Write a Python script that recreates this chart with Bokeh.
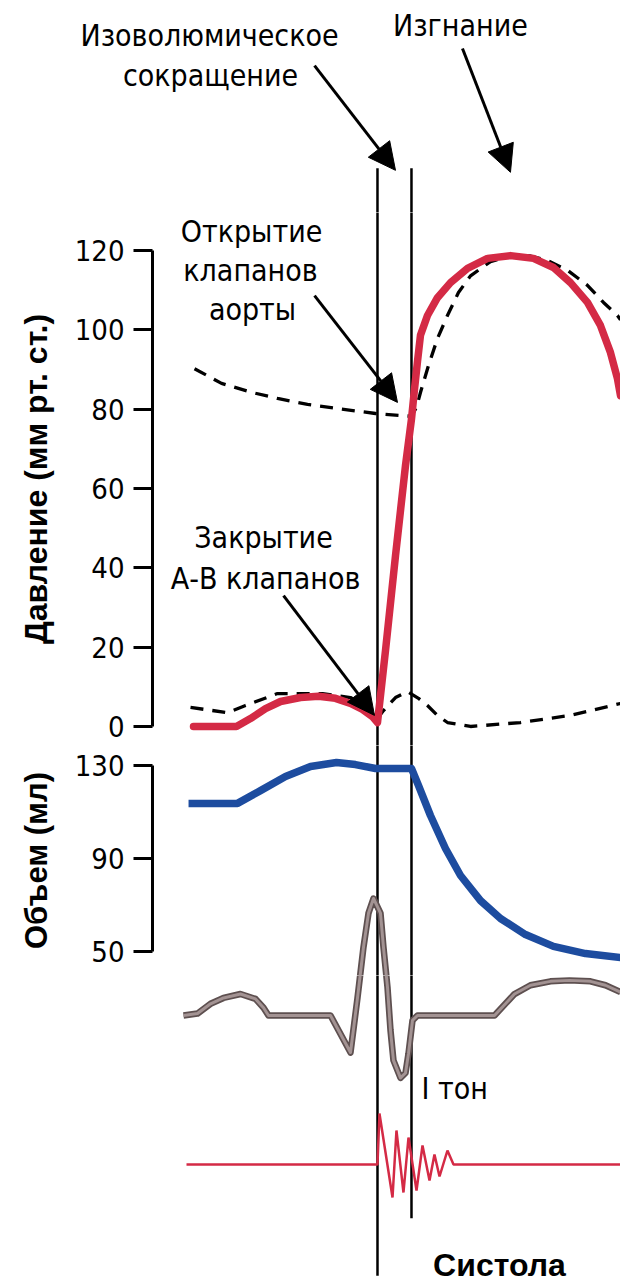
from bokeh.plotting import figure
from bokeh.layouts import column
from bokeh.models import Range1d, FixedTicker, Label, Arrow, NormalHead
from bokeh.embed import file_html
from bokeh.resources import INLINE

# ---------------- data (time in ms from closure of A-V valves) ----------------
phase_bounds = [0, 50]          # isovolumic contraction: AV closure -> aortic opening

# left-ventricular pressure, mm Hg
lv_t = [-270.6, -207.4, -186.8, -164.7, -142.6, -113.2, -86.8, -61.8, -39.7, -22.1,
        -7.4, -1.5, 0, 11.8, 26.5, 41.2, 50, 54.4, 58.8, 63.2, 73.5, 88.2, 107.4,
        132.4, 161.8, 195.6, 229.4, 258.8, 283.8, 308.8, 327.9, 342.6, 352.9, 357.4]
lv_p = [0, 0, 2.0, 4.5, 6.3, 7.3, 7.6, 7.1, 5.8, 4.3,
        2.5, 1.3, 1.0, 19.2, 43.1, 65.8, 77.5, 85.0, 92.0, 98.6, 103.6, 108.1, 111.9,
        115.5, 118.0, 118.7, 118.0, 115.7, 111.9, 106.9, 101.1, 94.3, 87.7, 83.4]

# aortic pressure, mm Hg
ao_t = [-269.1, -229.4, -186.8, -147.1, -102.9, -60.3, -2.9, 41.2, 50, 57.4, 63.2,
        75.0, 88.2, 102.9, 119.1, 136.8, 166.2, 195.6, 225.0, 250.0, 279.4, 308.8,
        332.4, 352.9, 357.4]
ao_p = [90.2, 86.5, 84.3, 82.7, 81.2, 80.2, 78.9, 78.3, 78.2, 80.5, 84.2,
        91.0, 97.8, 103.6, 109.4, 113.6, 117.2, 118.6, 118.6, 117.5, 115.0, 111.2,
        106.9, 103.6, 102.5]

# left-atrial pressure, mm Hg
la_t = [-275, -220.6, -194.1, -147.1, -80.9, -39.7, -13.2, 0, 8.8, 26.5, 44.1,
        60.3, 73.5, 88.2, 102.9, 136.8, 210.3, 283.8, 357.4]
la_p = [4.8, 3.5, 5.3, 8.3, 8.3, 7.3, 4.8, 2.0, 4.0, 7.3, 8.8,
        7.1, 5.3, 2.8, 1.0, 0.0, 1.0, 2.8, 5.8]

# ventricular volume, ml
vol_t = [-277.9, -205.9, -172.1, -135.3, -98.5, -60.3, -32.4, -2.9, 50, 60.3, 77.9,
         100, 122.1, 151.5, 180.9, 217.6, 258.8, 305.9, 357.4]
vol_v = [113.7, 113.7, 119.2, 125.3, 129.6, 131.3, 130.4, 128.7, 128.7, 121.4, 108.5,
         94.3, 82.7, 71.9, 64.2, 57.3, 52.2, 49.1, 47.4]

# ECG, mV
ecg_t = [-285.3, -264.7, -245.6, -226.5, -201.5, -179.4, -167.6, -160.3, -69.1, -39.7,
         -29.4, -20.6, -13.2, -5.9, 4.4, 8.8, 14.7, 19.1, 23.5, 33.8, 41.2, 45.6, 51.5,
         58.8, 172.1, 201.5, 225.0, 254.4, 282.4, 313.2, 335.3, 357.4]
ecg_mv = [0, 0.02, 0.12, 0.18, 0.22, 0.17, 0.08, 0, 0, -0.38,
          0.18, 0.70, 1.05, 1.2, 1.05, 0.70, 0.29, -0.15, -0.46, -0.64, -0.59, -0.39, -0.05,
          0, 0, 0.22, 0.31, 0.35, 0.36, 0.35, 0.31, 0.24]

# phonocardiogram (first heart sound), arbitrary units
pcg_t = [-280.9, 0, 2.9, 22.1, 27.9, 38.2, 45.6, 57.4, 66.2, 76.5, 83.8, 91.2,
         102.9, 111.8, 357.4]
pcg_a = [0, 0, 1.02, -0.66, 0.68, -0.56, 0.54, -0.52, 0.38, -0.32, 0.20, -0.24,
         0.28, 0, 0]

p_ticks = [0, 20, 40, 60, 80, 100, 120]
v_ticks = [50, 90, 130]

# ---------------- styles ----------------
NARROW = "Liberation Sans Narrow, DejaVu Sans Condensed, sans-serif"
BOLD = "Liberation Sans, Arial, sans-serif"
RED = "#d42a45"
BLUE = "#1d4c9f"
W = 620
AXIS_X = 152
X_FULL = (-554.4, 357.4)
X_PLOT = (-330.9, 357.4)
LW_V = 2.5
TXT = "30px"
DASH = "13 9"


def base_fig(height, y_range, x_range, left, yaxis):
    f = figure(width=W, height=height, x_range=Range1d(*x_range), y_range=y_range,
               output_backend="svg", toolbar_location=None, x_axis_location=None,
               y_axis_location="left" if yaxis else None,
               min_border_left=left, min_border_right=0, min_border_top=0,
               min_border_bottom=0)
    try:
        f.frame_align = False
    except AttributeError:
        pass
    f.outline_line_color = None
    f.grid.visible = False
    f.background_fill_color = "white"
    f.border_fill_color = "white"
    return f


def style_axis(ax, ticks, bounds, label, label_size):
    ax.ticker = FixedTicker(ticks=ticks)
    ax.bounds = bounds
    ax.axis_line_width = 3
    ax.axis_line_color = "black"
    ax.major_tick_line_width = 3
    ax.major_tick_out = 19
    ax.major_tick_in = 0
    ax.minor_tick_line_color = None
    ax.major_label_text_font = NARROW
    ax.major_label_text_font_size = "29px"
    ax.major_label_text_color = "black"
    ax.major_label_standoff = 9
    ax.axis_label = label
    ax.axis_label_text_font = BOLD
    ax.axis_label_text_font_style = "bold"
    ax.axis_label_text_font_size = label_size
    ax.axis_label_text_color = "black"
    ax.axis_label_standoff = 18


def add_text(f, txt, x, y, size=TXT, font=NARROW, style="normal", align="center",
             y_range_name="default"):
    f.add_layout(Label(x=x, y=y, text=txt, text_font=font, text_font_size=size,
                       text_font_style=style, text_align=align, text_baseline="middle",
                       text_color="black", y_range_name=y_range_name))


def add_arrow(f, xs, ys, xe, ye):
    f.add_layout(Arrow(end=NormalHead(size=27, fill_color="black", line_color="black",
                                      line_width=1),
                       x_start=xs, y_start=ys, x_end=xe, y_end=ye,
                       line_width=3, line_color="black"))


# ---------------- top panel: phase annotations ----------------
pa = base_fig(212, Range1d(129.57, 183.0), X_FULL, 0, False)
line_top = 140.7
pa.segment(x0=phase_bounds, y0=[line_top] * 2, x1=phase_bounds, y1=[100] * 2,
           line_color="black", line_width=LW_V)
add_text(pa, "Изоволюмическое", -247.0, 174.2)
add_text(pa, "сокращение", -245.6, 164.1)
add_text(pa, "Изгнание", 122.0, 176.7)
add_arrow(pa, -92.6, 166.6, 26.5, 140.2)
add_arrow(pa, 125.0, 170.9, 195.6, 139.7)

# ---------------- pressure panel ----------------
pb = base_fig(533, Range1d(-4.79, 129.57), X_PLOT, AXIS_X, True)
style_axis(pb.yaxis[0], p_ticks, (0, 120), "Давление (мм рт. ст.)", "32px")
pb.segment(x0=phase_bounds, y0=[200] * 2, x1=phase_bounds, y1=[-50] * 2,
           line_color="black", line_width=LW_V)
pb.line(la_t, la_p, line_color="black", line_width=3.3, line_dash=DASH)
pb.line(ao_t, ao_p, line_color="black", line_width=3.3, line_dash=DASH)
pb.line(lv_t, lv_p, line_color=RED, line_width=7.5, line_cap="round", line_join="round")
add_text(pb, "Открытие", -185.3, 124.8)
add_text(pb, "клапанов", -186.8, 115.0)
add_text(pb, "аорты", -183.8, 105.2)
add_text(pb, "Закрытие", -167.6, 47.6)
add_text(pb, "А-В клапанов", -164.7, 37.3)
add_arrow(pb, -92.6, 108.6, 29.4, 81.7)
add_arrow(pb, -138.2, 33.0, -4.4, 2.8)

# ---------------- volume panel (with top of ECG) ----------------
pc = base_fig(230, Range1d(39.68, 138.6), X_PLOT, AXIS_X, True)
pc.extra_y_ranges = {"ecg": Range1d(0.410, 2.769)}
style_axis(pc.yaxis[0], v_ticks, (50, 130), "Объем (мл)", "31px")
pc.segment(x0=phase_bounds, y0=[300] * 2, x1=phase_bounds, y1=[-300] * 2,
           line_color="black", line_width=LW_V)
pc.line(vol_t, vol_v, line_color=BLUE, line_width=7.5, line_join="round")
pc.line(ecg_t, ecg_mv, y_range_name="ecg", line_color="#5e5050", line_width=6.5,
        line_join="round")
pc.line(ecg_t, ecg_mv, y_range_name="ecg", line_color="#a39393", line_width=3,
        line_join="round")

# ---------------- ECG / phonocardiogram panel ----------------
pd_ = base_fig(307, Range1d(-2.738, 0.410), X_PLOT, AXIS_X, False)
pd_.extra_y_ranges = {"pcg": Range1d(-2.36, 3.78)}
pd_.segment(x0=phase_bounds, y0=[5, 5], x1=phase_bounds, y1=[-2.67, -2.08],
            line_color="black", line_width=LW_V)
pd_.line(ecg_t, ecg_mv, line_color="#5e5050", line_width=6.5, line_join="round")
pd_.line(ecg_t, ecg_mv, line_color="#a39393", line_width=3, line_join="round")
pd_.line(pcg_t, pcg_a, y_range_name="pcg", line_color=RED, line_width=2.5)
add_text(pd_, "I тон", 64.7, -0.75, align="left")
add_text(pd_, "Систола", 179.4, -2.56, size="32px", font=BOLD, style="bold")

layout = column(pa, pb, pc, pd_, spacing=0)
open("out.html", "w").write(file_html(layout, INLINE))
